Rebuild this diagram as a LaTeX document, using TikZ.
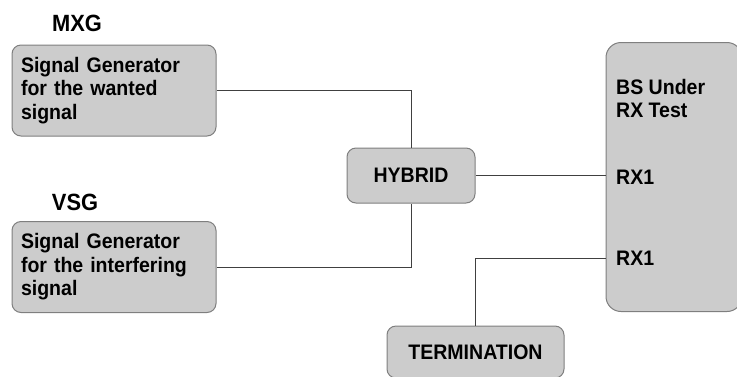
\documentclass[tikz,border=0pt]{standalone}
\usepackage{fontspec}
\setmainfont[FakeStretch=0.93]{Liberation Sans}

\begin{document}
\begin{tikzpicture}[x=1pt,y=-1pt,font=\bfseries]
  % Receiver test set-up: two generators into a hybrid, BS on the right.
  \definecolor{boxfill}{HTML}{CCCCCC}
  \definecolor{boxline}{HTML}{7F7F7F}
  \definecolor{wire}{HTML}{404040}
  \useasboundingbox (0,0) rectangle (737,376);

  \tikzset{
    unit/.style={draw=boxline, fill=boxfill, line width=1pt, rounded corners=9pt,
      inner sep=0pt, font=\bfseries\fontsize{21}{23.5}\selectfont},
    gen/.style={unit, minimum width=204pt, minimum height=91pt,
      text width=186pt, align=left},
    tag/.style={font=\bfseries\fontsize{23.5}{26}\selectfont},
    port/.style={anchor=west, inner sep=0pt, font=\bfseries\fontsize{21}{23.5}\selectfont},
    link/.style={draw=wire, line width=1pt}
  }

  \node[tag] (mxg) at (77,23) {MXG};
  \node[gen] (wanted) at (114,90.5) {Signal Generator\\for the wanted\\signal};
  \node[tag] (vsg) at (75,202) {VSG};
  \node[gen] (interf) at (114,267) {Signal Generator\\for the interfering\\signal};

  \node[unit, minimum width=128pt, minimum height=55pt] (hybrid) at (411,175.5) {HYBRID};
  \node[unit, minimum width=177pt, minimum height=52pt] (term) at (475.5,352) {TERMINATION};

  % The BS box runs off the right edge.
  \node[unit, rounded corners=15pt, minimum width=136pt, minimum height=269pt] (bs) at (674,177) {};
  \node[port, anchor=north west, align=left] (bsname) at (616,79) {BS Under\\RX Test};
  \node[port] (rxa) at (616,177) {RX1};
  \node[port] (rxb) at (616,258) {RX1};

  \draw[link] (wanted.east) -| (hybrid.north);
  \draw[link] (interf.east) -| (hybrid.south);
  \draw[link] (hybrid.east) -- (hybrid.east -| bs.west);
  \draw[link] (term.north) |- (bs.west |- rxb);
\end{tikzpicture}
\end{document}
